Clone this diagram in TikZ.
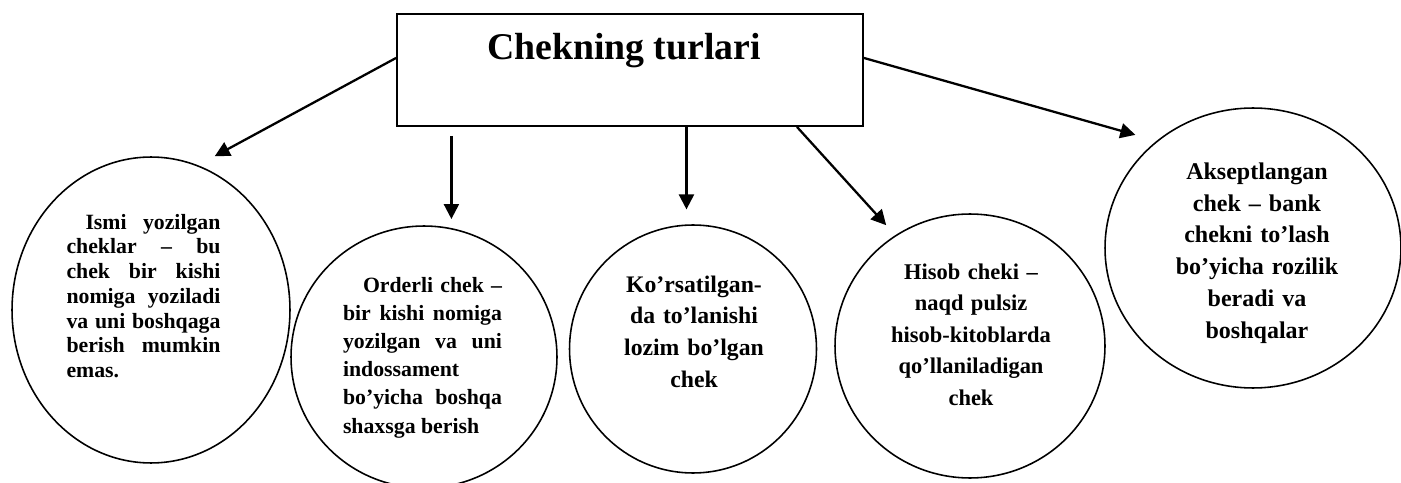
\documentclass[tikz,border=0pt]{standalone}
\usepackage{fontspec}
\setmainfont{Liberation Serif}
\usetikzlibrary{arrows.meta}
\usetikzlibrary{shapes.geometric}
\tikzset{headbox/.style={draw, line width=1.1pt, anchor=north, minimum width=9.32cm,
   inner ysep=0.39cm, text height=0.52cm, text depth=0.94cm,
   font=\bfseries\fontsize{21.5}{24}\selectfont},
 oval/.style={draw, ellipse, line width=0.9pt, inner sep=0pt},
 note/.style={inner sep=0pt, font=\bfseries},
 arr/.style={-{Triangle[length=0.3cm,width=0.3cm]}, line width=1.3pt},
 }

\begin{document}
\begin{tikzpicture}[x=0.02cm, y=-0.02cm]
        \useasboundingbox (0,0) rectangle (1401,483);
        \node (types) [headbox] at (630,13) {Chekning turlari\kern0.24cm};

        \node (e1) [oval, minimum width=5.56cm, minimum height=6.12cm] at (151,310) {};
        \node (e2) [oval, minimum width=5.32cm, minimum height=5.24cm] at (424,357) {};
        \node (e3) [oval, minimum width=4.94cm, minimum height=4.96cm] at (693,349) {};
        \node (e4) [oval, minimum width=5.40cm, minimum height=5.28cm] at (970,346) {};
        \node (e5) [oval, minimum width=5.92cm, minimum height=5.60cm] at (1253,248) {};

        \node (t1) [note, text width=3.08cm, align=justify,
          font=\bfseries\fontsize{12.4}{14.06}\selectfont] at (143.5,296)
          {\hspace*{0.38cm}Ismi yozilgan\linebreak cheklar – bu\linebreak chek bir kishi\linebreak
           nomiga yoziladi\linebreak va uni boshqaga\linebreak berish mumkin\linebreak emas.};
        \node (t2) [note, text width=3.18cm, align=justify,
          font=\bfseries\fontsize{12.4}{16.05}\selectfont] at (422.5,357.5)
          {\hspace*{0.4cm}Orderli chek –\linebreak bir kishi nomiga\linebreak yozilgan va uni\linebreak
           indossament\\ bo’yicha boshqa\linebreak shaxsga berish};
        \node (t3) [note, text width=3cm, align=center,
          font=\bfseries\fontsize{13.5}{18}\selectfont] at (694,331.5)
          {Ko’rsatilgan-\\da to’lanishi\\lozim bo’lgan\\chek};
        \node (t4) [note, text width=3.4cm, align=center,
          font=\bfseries\fontsize{12.8}{17.9}\selectfont] at (971,334.5)
          {Hisob cheki –\\naqd pulsiz\\hisob-kitoblarda\\qo’llaniladigan\\chek};
        \node (t5) [note, text width=3.4cm, align=center,
          font=\bfseries\fontsize{13.66}{18.1}\selectfont] at (1257,253)
          {Akseptlangan\\chek – bank\\chekni to’lash\\bo’yicha rozilik\\beradi va\\boshqalar};

        \draw [arr, shorten >=0.38cm] ([yshift=0.24cm]types.west) -- (e1.72);
        \draw [arr, shorten <=0.18cm, shorten >=0.18cm] (types.south -| e2.78) -- (e2.78);
        \draw [arr, shorten >=0.3cm] (types.south -| e3.93) -- (e3.93);
        \draw [arr, shorten >=0.27cm] ([xshift=3.34cm]types.south) -- (e4.124);
        \draw [arr, shorten >=0.44cm] ([yshift=0.24cm]types.east) -- (e5.132);
\end{tikzpicture}
\end{document}
